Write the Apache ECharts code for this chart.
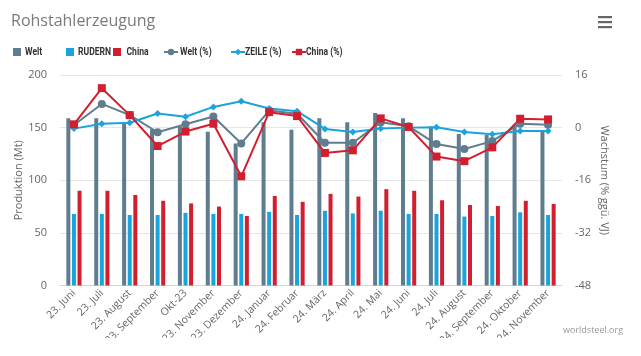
<!DOCTYPE html>
<html>
<head>
<meta charset="utf-8">
<script src="https://cdn.jsdelivr.net/npm/echarts@6/dist/echarts.min.js"></script>
<style>
html,body{margin:0;padding:0;background:#fff;}
#chart{width:641px;height:338px;}
</style>
</head>
<body>
<div id="chart"></div>
<script>
const categories = ['23. Juni','23. Juli','23. August','23. September','Okt-23','23. November','23. Dezember','24. Januar','24. Februar','24. März','24. April','24. Mai','24. Juni','24. Juli','24. August','24. September','24. Oktober','24. November'];
const welt = [159,159,154,148.5,151,146,135,155,148,159,155,164,159,151,144,143,152,146];
const rudern = [68,68,67,67,69,68,68,70,67,71,68.5,71,68,68,65.5,66,69.5,67];
const china = [90,90,86,80.5,78,75,66,85,79.5,87,84.5,91.5,90,81,76.5,75.5,80.5,77.5];
const weltPct = [0.8,7.2,3.8,-1.4,1,3.4,-4.8,5.2,4.2,-4.6,-4.6,1.6,0.4,-5,-6.5,-4.1,1.2,0.9];
const zeilePct = [-0.3,1.2,1.5,4.3,3.3,6.3,8,5.8,5,-0.4,-1.3,-0.3,0,0.1,-1.3,-2,-1,-1];
const chinaPct = [1,12,3.8,-5.6,-1.2,1.2,-14.8,4.7,3.5,-7.7,-6.9,2.8,0.2,-8.8,-10.2,-6,2.7,2.5];
const leftTicks = {min:0,max:200,interval:50};
const rightTicks = {min:-48,max:16,interval:16};

const C_WELT = '#5f7d8e', C_RUD = '#1aa3dc', C_CHINA = '#d21f30';
const legendDefs = [
  {name:'Welt', left:13, icon:'rect', w:8, tx:25},
  {name:'RUDERN', left:66, icon:'rect', w:8, tx:78},
  {name:'China', left:113, icon:'rect', w:8, tx:126.5},
  {name:'Welt (%)', left:163, w:14, tx:180},
  {name:'ZEILE (%)', left:230, w:14, tx:245},
  {name:'China (%)', left:291, w:14, tx:306}
];
const chart = echarts.init(document.getElementById('chart'), null, {renderer:'canvas'});
const legendTexts = legendDefs.map(d => ({
  type:'text', x:d.tx, y:52, scaleX:0.78,
  style:{text:d.name, fontFamily:'Roboto, sans-serif', fontSize:11, fontWeight:'bold', fill:'#333', verticalAlign:'middle'}
}));
chart.setOption({
  animation:false,
  title:{text:'Rohstahlerzeugung', left:6, top:8, textStyle:{fontFamily:"'Open Sans',sans-serif", fontSize:16, fontWeight:'normal', color:'#7a7a7a'}},
  graphic:[
    {type:'rect', shape:{x:598,y:16,width:14,height:2.2}, style:{fill:'#666'}},
    {type:'rect', shape:{x:598,y:21,width:14,height:2.2}, style:{fill:'#666'}},
    {type:'rect', shape:{x:598,y:26,width:14,height:2.2}, style:{fill:'#666'}},
    {type:'text', left:563, top:326, style:{text:'worldsteel.org', fontSize:9, fill:'#999', fontFamily:"'Open Sans',sans-serif"}}
  ].concat(legendTexts),
  legend: legendDefs.map(d => ({
    data:[d.icon ? {name:d.name, icon:d.icon} : {name:d.name}],
    left:d.left, top:48, itemWidth:d.w, itemHeight:8, itemGap:0, padding:0,
    selectedMode:false, formatter:() => '',
    textStyle:{fontSize:1}
  })),
  grid:{left:60, right:79, top:75, bottom:52.5, outerBoundsMode:'none', containLabel:false},
  xAxis:{
    type:'category', data:categories,
    axisLine:{lineStyle:{color:'#ccd6eb'}},
    axisTick:{show:false},
    axisLabel:{rotate:45, color:'#666', fontSize:10.5, fontFamily:"'Open Sans',sans-serif", margin:6, interval:0}
  },
  yAxis:[
    {type:'value', min:leftTicks.min, max:leftTicks.max, interval:leftTicks.interval,
     name:'Produktion (Mt)', nameLocation:'middle', nameGap:36, nameMoveOverlap:false,
     nameTextStyle:{color:'#666', fontSize:11, fontFamily:"'Open Sans',sans-serif"},
     axisLabel:{color:'#666', fontSize:11, margin:13, fontFamily:"'Open Sans',sans-serif"},
     splitLine:{lineStyle:{color:'#e6e6e6'}}, axisLine:{show:false}, axisTick:{show:false}},
    {type:'value', min:rightTicks.min, max:rightTicks.max, interval:rightTicks.interval, position:'right',
     name:'Wachstum (% ggü. VJ)', nameLocation:'middle', nameGap:37, nameRotate:-90, nameMoveOverlap:false,
     nameTextStyle:{color:'#666', fontSize:11, fontFamily:"'Open Sans',sans-serif"},
     axisLabel:{color:'#666', fontSize:11, margin:13, fontFamily:"'Open Sans',sans-serif"},
     splitLine:{show:false}, axisLine:{show:false}, axisTick:{show:false}}
  ],
  series:[
    {name:'Welt', type:'bar', data:welt, barWidth:4, barGap:'40%', itemStyle:{color:C_WELT}},
    {name:'RUDERN', type:'bar', data:rudern, barWidth:4, barGap:'40%', itemStyle:{color:C_RUD}},
    {name:'China', type:'bar', data:china, barWidth:4, barGap:'40%', itemStyle:{color:C_CHINA}},
    {name:'Welt (%)', type:'line', yAxisIndex:1, data:weltPct, symbol:'circle', symbolSize:8,
     lineStyle:{width:2, color:C_WELT}, itemStyle:{color:C_WELT}},
    {name:'ZEILE (%)', type:'line', yAxisIndex:1, data:zeilePct, symbol:'diamond', symbolSize:7,
     lineStyle:{width:2, color:C_RUD}, itemStyle:{color:C_RUD}},
    {name:'China (%)', type:'line', yAxisIndex:1, data:chinaPct, symbol:'rect', symbolSize:8,
     lineStyle:{width:2, color:C_CHINA}, itemStyle:{color:C_CHINA}}
  ]
});
</script>
</body>
</html>
